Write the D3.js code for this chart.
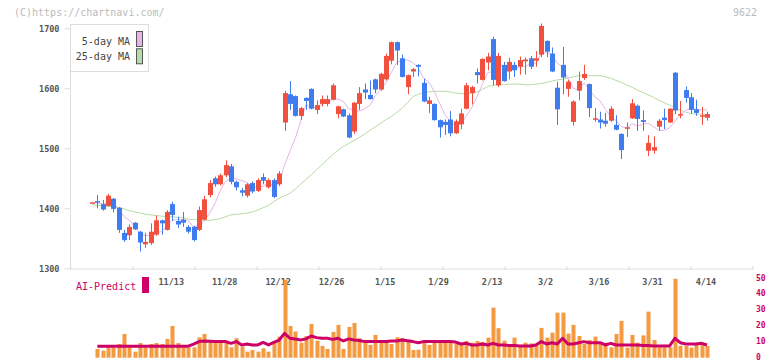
<!DOCTYPE html>
<html><head><meta charset="utf-8">
<script src="https://cdn.jsdelivr.net/npm/d3@7"></script>
<style>body{margin:0;background:#fff}svg{display:block}</style>
</head><body><svg id="c" width="772" height="361"></svg>
<script>
// ---- data ----
const openP  = [1410,1412,1407,1404,1416,1401,1359,1355,1376,1361,1340,1342,1356,1380,1364,1407,1379,1381,1369,1369,
  1364,1381,1422,1450,1440,1455,1470,1444,1430,1421,1442,1429,1452,1435,1447,1440,1543,1590,1587,1554,
  1584,1599,1564,1574,1574,1581,1557,1565,1555,1528,1574,1598,1589,1615,1598,1615,1646,1677,1650,1602,
  1628,1639,1609,1574,1574,1547,1544,1548,1525,1540,1566,1592,1627,1614,1643,1682,1605,1639,1628,1639,
  1636,1645,1650,1646,1656,1679,1658,1601,1639,1599,1544,1596,1617,1607,1549,1548,1546,1546,1539,1524,
  1533,1550,1571,1547,1496,1496,1536,1551,1543,1626,1556,1597,1585,1565,1553,1551];
const highP  = [1410,1422,1414,1424,1417,1402,1364,1373,1377,1362,1359,1375,1388,1381,1397,1411,1386,1394,1372,1371,
  1403,1421,1447,1453,1458,1480,1474,1446,1434,1442,1445,1450,1458,1450,1450,1462,1596,1612,1588,1569,
  1585,1600,1580,1588,1588,1608,1571,1566,1558,1577,1602,1608,1613,1616,1626,1658,1678,1678,1656,1623,
  1634,1640,1616,1586,1575,1548,1548,1562,1548,1566,1609,1604,1633,1650,1659,1686,1659,1644,1651,1644,
  1653,1651,1654,1662,1708,1680,1668,1611,1669,1614,1580,1628,1639,1608,1567,1561,1559,1570,1555,1525,
  1543,1582,1573,1563,1522,1520,1549,1566,1567,1627,1579,1603,1592,1581,1569,1561];
const lowP   = [1410,1400,1396,1403,1393,1359,1344,1347,1364,1328,1334,1339,1354,1356,1363,1379,1367,1369,1358,1345,
  1362,1380,1418,1436,1438,1452,1440,1430,1420,1418,1425,1427,1440,1433,1417,1437,1529,1564,1553,1547,
  1564,1565,1557,1570,1570,1580,1550,1552,1517,1524,1564,1582,1581,1592,1596,1613,1640,1639,1618,1590,
  1619,1620,1577,1559,1546,1518,1522,1520,1524,1532,1565,1573,1608,1613,1630,1605,1602,1611,1615,1619,
  1623,1623,1632,1636,1652,1652,1627,1539,1590,1586,1538,1580,1614,1552,1544,1533,1536,1544,1530,1482,
  1519,1549,1529,1529,1487,1491,1529,1532,1542,1557,1550,1576,1558,1554,1539,1546];
const closeP = [1410,1411,1398,1421,1399,1364,1347,1369,1365,1343,1344,1361,1380,1375,1394,1389,1373,1376,1361,1347,
  1397,1415,1442,1440,1455,1472,1444,1435,1426,1440,1428,1447,1446,1447,1419,1458,1592,1574,1554,1567,
  1579,1566,1572,1582,1582,1605,1570,1553,1518,1576,1592,1593,1582,1598,1624,1654,1677,1663,1619,1622,
  1632,1636,1578,1580,1547,1535,1539,1525,1545,1558,1605,1602,1622,1649,1653,1614,1654,1612,1644,1630,
  1647,1648,1636,1650,1704,1661,1628,1565,1618,1611,1578,1612,1624,1567,1550,1543,1541,1566,1531,1497,
  1535,1575,1549,1544,1509,1502,1546,1547,1566,1563,1557,1584,1564,1559,1555,1557];
const ma5 = [1410,1409,1407,1409,1408,1399,1386,1380,1369,1358,1354,1356,1359,1361,1371,1380,1382,1381,1379,1369,
  1371,1379,1392,1408,1430,1445,1451,1449,1446,1443,1435,1435,1437,1442,1437,1443,1472,1495,1516,1545,
  1573,1568,1568,1573,1576,1581,1582,1578,1566,1564,1562,1566,1572,1588,1598,1610,1627,1643,1647,1647,
  1643,1634,1617,1610,1595,1575,1556,1545,1538,1540,1554,1567,1586,1607,1626,1628,1638,1636,1635,1631,
  1637,1636,1641,1642,1657,1660,1656,1642,1635,1617,1600,1597,1609,1598,1586,1579,1565,1553,1546,1536,
  1534,1541,1537,1540,1542,1536,1530,1530,1534,1545,1556,1563,1567,1565,1564,1564];
const ma25 = [1406,1405,1404,1403,1403,1401,1399,1396,1394,1392,1390,1389,1388,1387,1386,1386,1385,1384,1382,1381,
  1381,1380,1380,1381,1383,1386,1389,1390,1391,1392,1394,1397,1401,1405,1411,1417,1421,1425,1432,1440,
  1448,1456,1464,1473,1481,1489,1497,1503,1508,1513,1518,1524,1530,1536,1542,1548,1553,1560,1567,1576,
  1586,1590,1593,1594,1595,1595,1595,1594,1592,1591,1591,1592,1594,1598,1603,1605,1606,1606,1607,1607,
  1607,1606,1606,1607,1608,1610,1612,1614,1615,1617,1619,1621,1621,1621,1621,1621,1619,1617,1613,1610,
  1605,1602,1597,1593,1589,1585,1580,1576,1572,1568,1564,1560,1558,1557,1557,1556];
// volume and AI-Predict start at the 2nd session (index 1)
const volume = [5.5,4.4,6.5,6.5,8.6,14.9,6.5,3.8,9.2,6.5,8.6,9.2,8.6,11.8,19.9,9.2,6.5,6.5,6.5,12.8,
  14.9,10.7,10.7,10.7,10.7,6.5,12.2,6.9,3.8,4.8,3.8,5.9,3.8,10.1,13.2,48.9,19.9,16.4,9.4,13.6,
  21.2,10.7,7.4,5.5,16.2,20.6,5.5,19.3,21.8,12.2,10.1,8.0,14.3,11.1,10.7,8.6,12.8,12.4,10.4,4.8,
  5.0,11.1,8.0,9.4,11.1,9.4,10.5,9.0,8.6,10.5,9.4,10.5,9.9,12.6,31.4,18.5,10.7,8.0,12.6,8.0,
  9.4,9.0,8.6,18.7,12.6,15.7,28.3,28.3,15.1,20.6,13.6,8.6,11.1,13.2,9.4,9.4,6.5,14.9,23.1,6.3,
  14.3,9.4,14.0,28.9,11.1,6.5,6.5,6.5,49.5,7.4,7.4,6.3,9.4,9.4,7.4];
const aiPredict = [7.2,7.2,7.2,7.2,7.2,7.2,7.2,7.2,7.2,7.2,7.2,7.2,7.2,7.2,7.2,7.2,7.2,7.2,8.5,10.1,
  10.5,10.3,10.1,10.1,10.1,9.0,10.1,8.0,8.6,8.0,8.0,9.6,8.0,9.6,11.1,15.3,12.2,11.8,11.1,11.8,
  13.6,12.6,12.2,12.2,11.5,12.2,10.5,11.8,11.1,10.8,10.1,10.1,10.1,10.1,10.1,10.5,10.5,11.1,10.6,10.1,
  9.4,10.1,10.1,10.1,10.1,10.1,10.1,9.8,8.6,9.0,8.0,8.0,8.6,8.0,9.0,8.0,8.0,7.6,7.6,7.4,
  7.4,7.4,8.0,10.1,8.6,9.4,8.6,12.2,8.6,8.6,9.4,10.1,9.4,9.4,9.4,8.0,9.0,8.0,8.0,8.0,
  8.0,8.0,7.7,7.7,7.4,7.4,7.4,7.4,12.2,9.4,8.6,8.6,8.6,9.0,8.0];
const xLabels   = ["11/13","11/28","12/12","12/26","1/15","1/29","2/13","3/2","3/16","3/31","4/14"];
const xLabelIdx = [15,25,35,45,55,65,75,85,95,105,115];
const yTicks = [1300,1400,1500,1600,1700];
const vTicks = [0,10,20,30,40,50];
const legendItems = ["5-day MA","25-day MA"];

// ---- drawing ----
const C = {up:"#f2503f", down:"#3f7cf0", ma5:"#e6b4ea", ma25:"#b6dca8",
           vol:"#f39a42", ai:"#cc0066", axis:"#dddddd", txt:"#555555", faint:"#bbbbbb"};
const FONT = "'DejaVu Sans Mono', monospace";
const svg = d3.select("#c");
const n = closeP.length;
const x = d3.scaleLinear().domain([0, n - 1]).range([92, 707]);
const y = d3.scaleLinear().domain([1300, 1700]).range([268.3, 28.3]);
const yv = d3.scaleLinear().domain([0, 50]).range([357.7, 278]);
const grid = d3.scaleLinear().domain([0, 11]).range([70.5, 752.5]);

// header texts
svg.append("text").attr("x", 14).attr("y", 16).text("(C)https://chartnavi.com/")
  .attr("font-family", FONT).attr("font-size", 10).attr("fill", C.faint);
svg.append("text").attr("x", 757).attr("y", 16).attr("text-anchor", "end").text("9622")
  .attr("font-family", FONT).attr("font-size", 10).attr("fill", C.faint);

// axes
const gx = svg.append("g").attr("transform", "translate(0,268.5)")
  .call(d3.axisTop(grid).tickValues(d3.range(12)).tickFormat("").tickSize(4).tickSizeOuter(0));
gx.selectAll("line").attr("stroke", C.axis);
gx.select(".domain").attr("stroke", C.axis);
gx.selectAll(".tick line").attr("transform", "translate(0,1.5)");

const gy = svg.append("g").attr("transform", "translate(70.5,0)")
  .call(d3.axisLeft(y).tickValues(yTicks).tickFormat(d3.format("d")).tickSize(6).tickSizeOuter(0).tickPadding(5));
gy.select(".domain").attr("d", "M0,24V268.5").attr("stroke", C.axis);
gy.selectAll(".tick line").attr("stroke", C.axis);
gy.selectAll(".tick text").attr("font-family", FONT).attr("font-size", 8.5)
  .attr("font-weight", "bold").attr("fill", C.txt);

// x labels
svg.append("g").selectAll("text").data(xLabels).join("text")
  .attr("x", (d, i) => x(xLabelIdx[i]) - 1).attr("y", 284.5)
  .attr("text-anchor", "middle").text(d => d)
  .attr("font-family", FONT).attr("font-size", 8.5).attr("font-weight", "bold").attr("fill", C.txt);

// moving averages
const line = d3.line().x((d, i) => x(i)).y(d => y(d));
svg.append("path").attr("d", line(ma25)).attr("fill", "none").attr("stroke", C.ma25).attr("stroke-width", 1);
svg.append("path").attr("d", line(ma5)).attr("fill", "none").attr("stroke", C.ma5).attr("stroke-width", 1);

// candles
const idx = d3.range(n);
const g = svg.append("g");
const col = i => closeP[i] >= openP[i] ? C.up : C.down;
g.selectAll("line.w").data(idx).join("line").attr("class", "w")
  .attr("x1", i => Math.round(x(i)) + 0.5).attr("x2", i => Math.round(x(i)) + 0.5)
  .attr("y1", i => y(highP[i])).attr("y2", i => y(lowP[i]))
  .attr("stroke", col).attr("stroke-width", 1);
g.selectAll("rect.b").data(idx).join("rect").attr("class", "b")
  .attr("x", i => Math.round(x(i)) - 2).attr("width", 5)
  .attr("y", i => y(Math.max(openP[i], closeP[i])))
  .attr("height", i => Math.max(1.5, Math.abs(y(openP[i]) - y(closeP[i]))))
  .attr("fill", col);

// legend
const lg = svg.append("g");
lg.append("rect").attr("x", 70.5).attr("y", 24.5).attr("width", 78).attr("height", 47)
  .attr("fill", "#fff").attr("stroke", "#dddddd");
lg.selectAll("text").data(legendItems).join("text")
  .attr("x", 130).attr("y", (d, i) => 45 + i * 15).attr("text-anchor", "end").text(d => d)
  .attr("font-family", FONT).attr("font-size", 10).attr("fill", "#444");
lg.selectAll("rect.s").data([C.ma5, C.ma25]).join("rect").attr("class", "s")
  .attr("x", 136.5).attr("y", (d, i) => 31.5 + i * 17.3).attr("width", 6).attr("height", 15)
  .attr("fill", d => d).attr("stroke", "#555");

// lower panel: volume + AI predict
const vi = d3.range(1, n);
svg.append("g").selectAll("rect").data(vi).join("rect")
  .attr("x", i => Math.round(x(i)) - 1.5).attr("width", 4)
  .attr("y", i => yv(volume[i - 1])).attr("height", i => yv(0) - yv(volume[i - 1]))
  .attr("fill", C.vol);
const aiLine = d3.line().x(i => x(i)).y(i => yv(aiPredict[i - 1]));
svg.append("path").attr("d", aiLine(vi)).attr("fill", "none").attr("stroke", C.ai)
  .attr("stroke-width", 3).attr("stroke-linejoin", "round");

svg.append("g").selectAll("text").data(vTicks).join("text")
  .attr("x", 756).attr("y", d => yv(d) + 2.5).text(d => d)
  .attr("font-family", FONT).attr("font-size", 8).attr("font-weight", "bold").attr("fill", C.ai);

svg.append("text").attr("x", 76).attr("y", 290).text("AI-Predict")
  .attr("font-family", FONT).attr("font-size", 10).attr("fill", C.ai);
svg.append("rect").attr("x", 142).attr("y", 277).attr("width", 7).attr("height", 16).attr("fill", C.ai);
</script></body></html>
